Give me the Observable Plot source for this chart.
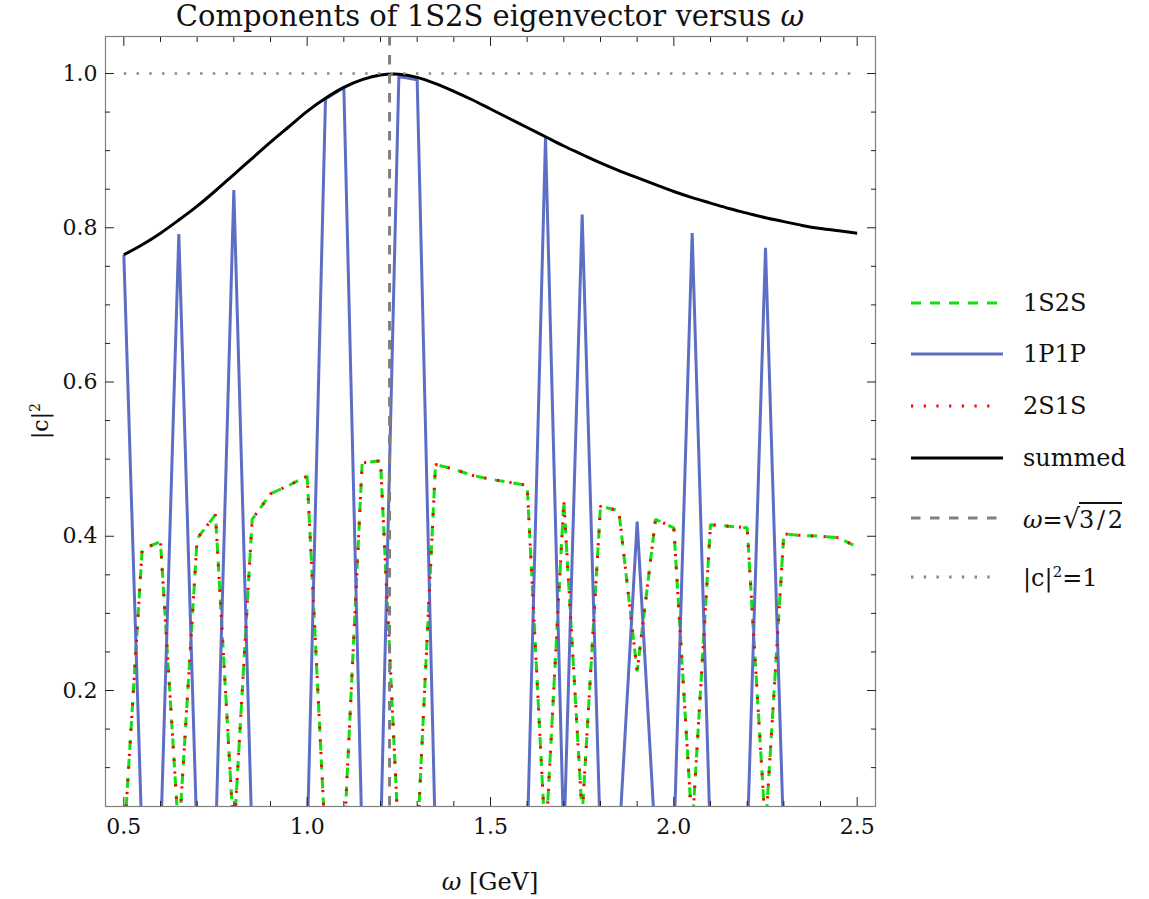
<!DOCTYPE html>
<html>
<head>
<meta charset="utf-8">
<script src="https://cdn.jsdelivr.net/npm/d3@7"></script>
<script src="https://cdn.jsdelivr.net/npm/@observablehq/plot@0.6"></script>
<style>
  body { margin: 0; background: #fff; }
  #wrap { position: relative; width: 1149px; height: 899px; font-family: "DejaVu Serif", serif; color: #111; }
  #wrap svg.plot { position: absolute; left: 0; top: 0; }
  #title { position: absolute; left: 105px; width: 770px; top: -3px; text-align: center; font-size: 29px; line-height: 38px; white-space: nowrap; }
  #xlabel { position: absolute; left: 105px; width: 770px; top: 866px; text-align: center; font-size: 24px; line-height: 32px; }
  #ylabel { position: absolute; left: 40px; top: 421px; transform: translate(-50%, -50%) rotate(-90deg); font-size: 22px; white-space: nowrap; }
  .lrow { position: absolute; left: 911px; height: 40px; display: flex; align-items: center; white-space: nowrap; }
  .lrow .lab { margin-left: 20px; font-size: 24px; }
  .rad { border-top: 2px solid #111; padding-top: 2px; letter-spacing: -1px; }
  .sq { font-family: "DejaVu Sans", sans-serif; font-size: 27px; margin-right: -1px; }
</style>
</head>
<body>
<div id="wrap">
  <div id="title">Components of 1S2S eigenvector versus <i>ω</i></div>
  <div id="xlabel"><i>ω</i> [GeV]</div>
  <div id="ylabel">|c|<sup style="font-size:14px">2</sup></div>
</div>
<script>
// ---- data ----
const omega = [0.50,0.55,0.60,0.65,0.70,0.75,0.80,0.85,0.90,0.95,
               1.00,1.05,1.10,1.15,1.20,1.25,1.30,1.35,1.40,1.45,
               1.50,1.55,1.60,1.65,1.70,1.75,1.80,1.85,1.90,1.95,
               2.00,2.05,2.10,2.15,2.20,2.25,2.30,2.35,2.40,2.45,2.50];

const c1S2S = [0.000,0.383,0.393,0.010,0.397,0.428,0.010,0.422,0.455,0.466,
               0.478,0.000,0.000,0.495,0.498,0.000,0.000,0.493,0.487,0.479,
               0.474,0.470,0.466,0.000,0.446,0.038,0.439,0.433,0.225,0.422,
               0.411,0.020,0.415,0.413,0.411,0.019,0.403,0.401,0.400,0.398,0.386];

const c1P1P = [0.765,0.000,0.000,0.792,0.000,0.000,0.849,0.000,0.000,0.000,
               0.000,0.967,0.982,0.000,0.000,0.996,0.992,0.000,0.000,0.000,
               0.000,0.000,0.000,0.917,0.000,0.817,0.000,0.000,0.419,0.000,
               0.000,0.793,0.000,0.000,0.000,0.774,0.000,0.000,0.000,0.000,0.000];

const c2S1S = [0.000,0.383,0.393,0.010,0.397,0.428,0.010,0.422,0.455,0.466,
               0.478,0.000,0.000,0.495,0.498,0.000,0.000,0.493,0.487,0.479,
               0.474,0.470,0.466,0.000,0.446,0.038,0.439,0.433,0.225,0.422,
               0.411,0.020,0.415,0.413,0.411,0.019,0.403,0.401,0.400,0.398,0.386];

const summed = [0.765,0.778,0.793,0.810,0.828,0.848,0.869,0.890,0.911,0.931,
                0.951,0.968,0.982,0.992,0.998,0.999,0.995,0.987,0.977,0.966,
                0.954,0.942,0.930,0.918,0.906,0.895,0.884,0.874,0.865,0.856,
                0.847,0.839,0.832,0.825,0.819,0.813,0.808,0.803,0.799,0.796,0.793];

const omegaStar = [1.2247];          // ω = sqrt(3/2)
const unitX = [0.5, 2.5];            // |c|^2 = 1 reference line
const unitY = [1, 1];

const xMajor = [0.5, 1.0, 1.5, 2.0, 2.5];
const xMinor = [0.6,0.7,0.8,0.9,1.1,1.2,1.3,1.4,1.6,1.7,1.8,1.9,2.1,2.2,2.3,2.4];
const yMajor = [0.2, 0.4, 0.6, 0.8, 1.0];
const yMinor = [0.1,0.15,0.25,0.3,0.35,0.45,0.5,0.55,0.65,0.7,0.75,0.85,0.9,0.95];

const seriesNames = ["1S2S", "1P1P", "2S1S", "summed"];
const seriesColors = ["#10e010", "#5d6ec5", "#ff0000", "#000000"];
const seriesDash = ["10,9", null, "2.2,10.5", null];

// ---- build ----
const rows = omega.map((w, i) => ({w, a: c1S2S[i], b: c1P1P[i], c: c2S1S[i], s: summed[i]}));
const unitRows = unitX.map((w, i) => ({w, v: unitY[i]}));
const fmt = d3.format(".1f");
const blank = () => "";
const tickColor = "#222";

const lineOpts = (key, i, extra = {}) => ({
  x: "w", y: key, stroke: seriesColors[i], strokeWidth: 3,
  strokeDasharray: seriesDash[i], strokeLinecap: "butt", strokeLinejoin: "miter", clip: true, ...extra
});

const chart = Plot.plot({
  width: 1149, height: 899,
  marginLeft: 105, marginRight: 274, marginTop: 36, marginBottom: 93,
  x: {domain: [0.45, 2.55], label: null},
  y: {domain: [0.0496, 1.048], label: null},
  style: {fontFamily: "DejaVu Serif", fontSize: "22px", color: "#111", background: "transparent"},
  marks: [
    Plot.line(rows, lineOpts("a", 0)),
    Plot.line(rows, lineOpts("b", 1)),
    Plot.line(rows, lineOpts("c", 2)),
    Plot.line(rows, lineOpts("s", 3, {curve: "catmull-rom"})),
    Plot.ruleX(omegaStar, {stroke: "#808080", strokeWidth: 3, strokeDasharray: "9.5,9.5"}),
    Plot.line(unitRows, {x: "w", y: "v", stroke: "#8a8a8a", strokeWidth: 2.5, strokeDasharray: "2.5,10.2", strokeLinecap: "butt"}),
    Plot.frame({stroke: "#808080", strokeWidth: 1.2}),
    Plot.axisX(xMajor, {anchor: "bottom", tickSize: -9, tickPadding: 21, tickFormat: fmt, stroke: tickColor, fill: "#111", fontSize: 22, label: null}),
    Plot.axisX(xMinor, {anchor: "bottom", tickSize: -5, tickFormat: blank, stroke: tickColor, label: null}),
    Plot.axisX(xMajor, {anchor: "top", tickSize: -9, tickFormat: blank, stroke: tickColor, label: null}),
    Plot.axisX(xMinor, {anchor: "top", tickSize: -5, tickFormat: blank, stroke: tickColor, label: null}),
    Plot.axisY(yMajor, {anchor: "left", tickSize: -9, tickPadding: 17, tickFormat: fmt, stroke: tickColor, fill: "#111", fontSize: 22, label: null}),
    Plot.axisY(yMinor, {anchor: "left", tickSize: -5, tickFormat: blank, stroke: tickColor, label: null}),
    Plot.axisY(yMajor, {anchor: "right", tickSize: -9, tickFormat: blank, stroke: tickColor, label: null}),
    Plot.axisY(yMinor, {anchor: "right", tickSize: -5, tickFormat: blank, stroke: tickColor, label: null})
  ]
});
chart.classList.add("plot");
document.getElementById("wrap").prepend(chart);

// ---- legend ----
const legendLabels = [
  "1S2S", "1P1P", "2S1S", "summed",
  '<i>ω</i>=<span class="sq">√</span><span class="rad">3&#8201;/&#8201;2</span>',
  '|c|<sup style="font-size:15px">2</sup>=1'
];
const legendColors = [...seriesColors, "#808080", "#8a8a8a"];
const legendDash = [...seriesDash, "9.5,9.5", "2.5,10.2"];
const legendLen = [87, 92, 87, 92, 87, 87];
const legendTop = [303, 354, 406, 458, 518, 577];
const wrap = document.getElementById("wrap");
legendLabels.forEach((lab, i) => {
  const row = document.createElement("div");
  row.className = "lrow";
  row.style.top = (legendTop[i] - 20) + "px";
  row.innerHTML = `<svg width="92" height="10" style="display:block"><line x1="0" x2="${legendLen[i]}" y1="5" y2="5" stroke="${legendColors[i]}" stroke-width="3" ${legendDash[i] ? `stroke-dasharray="${legendDash[i]}"` : ""} stroke-linecap="butt"/></svg><span class="lab">${lab}</span>`;
  wrap.appendChild(row);
});
</script>
</body>
</html>
